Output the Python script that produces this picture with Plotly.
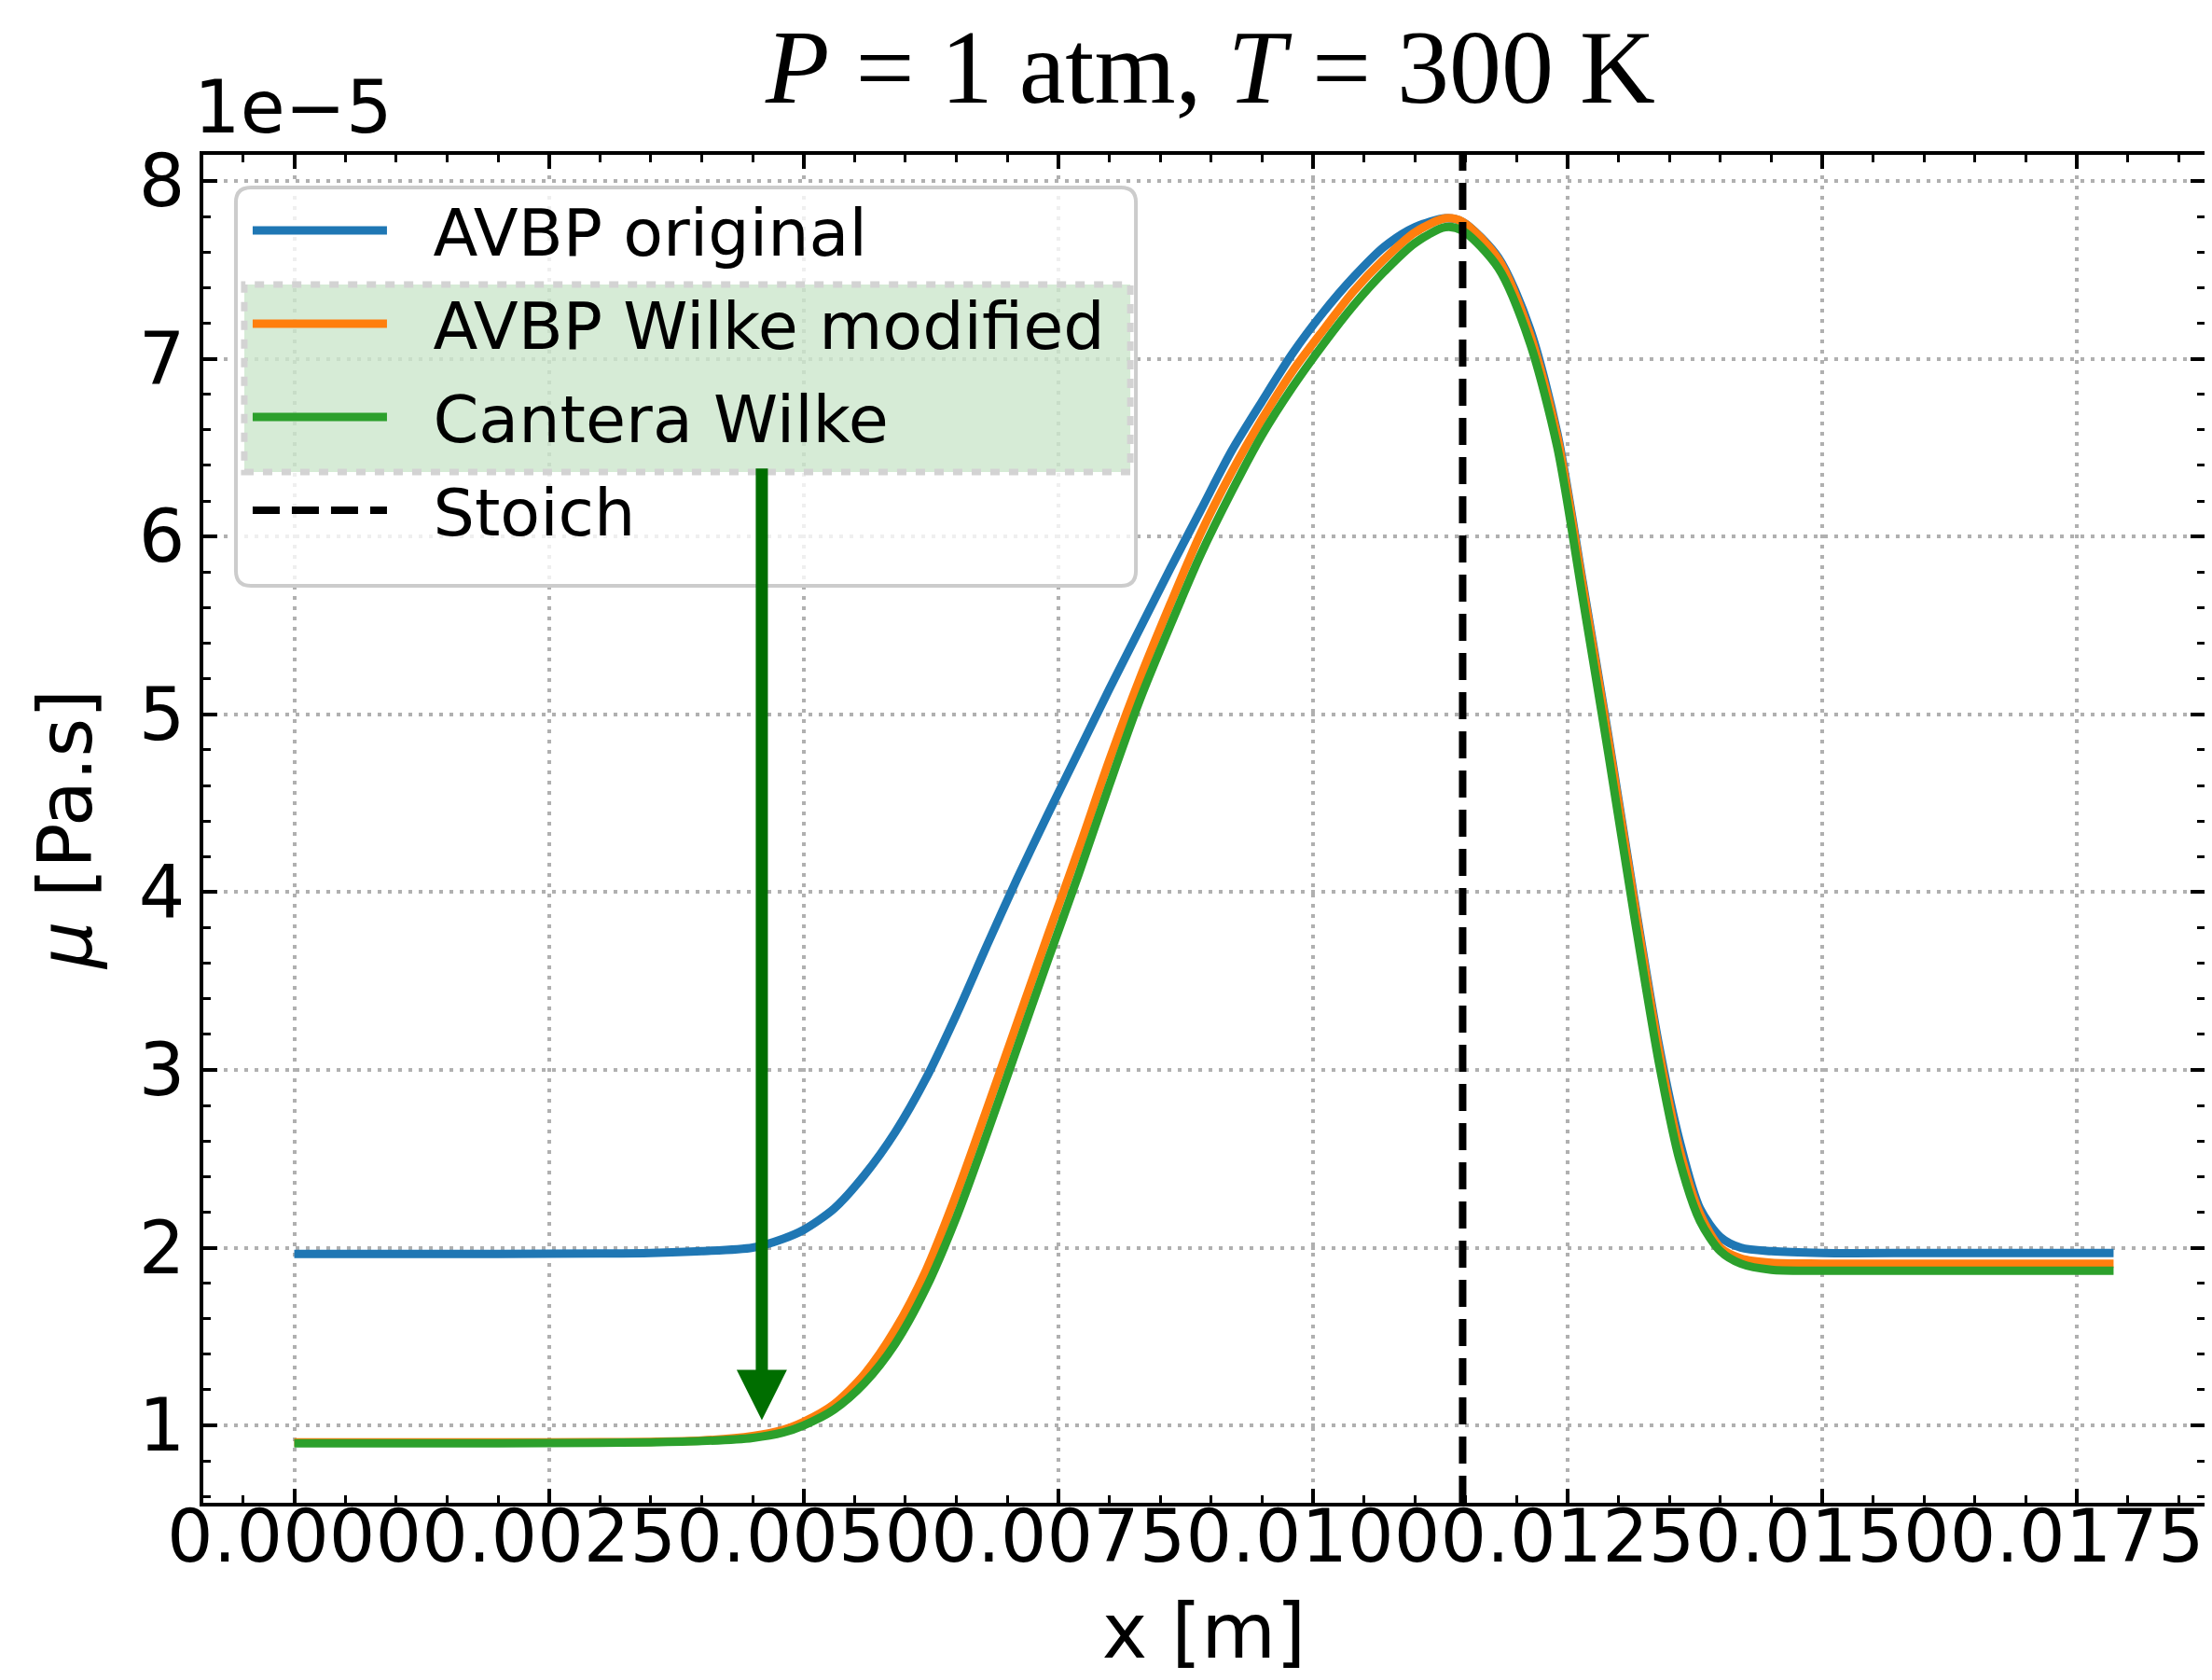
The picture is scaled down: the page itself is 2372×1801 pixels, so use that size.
import plotly.graph_objects as go

# ---------------- data (mu in units of 1e-5 Pa.s) ----------------
x_m = [0.0, 0.001, 0.002, 0.003, 0.0035, 0.004, 0.0045, 0.0048, 0.0050, 0.0053,
       0.0056, 0.0059, 0.0062, 0.0065, 0.0068, 0.0071, 0.0074, 0.0077, 0.0080, 0.0083,
       0.0086, 0.0089, 0.0092, 0.0095, 0.0098, 0.0101, 0.0104, 0.0107, 0.0110, 0.0113,
       0.01147, 0.01182, 0.01213, 0.0124, 0.01265, 0.0129, 0.01315, 0.0134, 0.0136, 0.0138,
       0.0140, 0.0142, 0.0145, 0.0150, 0.0160, 0.0170, 0.01786]

mu_avbp_original = [1.965, 1.965, 1.965, 1.967, 1.97, 1.98, 2.00, 2.05, 2.10, 2.22,
                    2.41, 2.65, 2.95, 3.31, 3.70, 4.08, 4.44, 4.79, 5.14, 5.48,
                    5.82, 6.15, 6.48, 6.76, 7.03, 7.26, 7.46, 7.63, 7.74, 7.79,
                    7.77, 7.57, 7.17, 6.58, 5.74, 4.88, 3.98, 3.13, 2.60, 2.22,
                    2.06, 2.00, 1.98, 1.97, 1.97, 1.97, 1.97]

mu_avbp_wilke = [0.905, 0.905, 0.905, 0.906, 0.908, 0.915, 0.94, 0.975, 1.02, 1.12,
                 1.29, 1.54, 1.87, 2.30, 2.78, 3.27, 3.76, 4.24, 4.74, 5.20,
                 5.62, 6.02, 6.36, 6.66, 6.93, 7.16, 7.38, 7.56, 7.71, 7.79,
                 7.77, 7.56, 7.14, 6.56, 5.72, 4.86, 3.96, 3.10, 2.55, 2.19,
                 2.00, 1.94, 1.915, 1.91, 1.91, 1.91, 1.91]

mu_cantera_wilke = [0.90, 0.90, 0.90, 0.902, 0.905, 0.912, 0.93, 0.96, 1.00, 1.09,
                    1.24, 1.46, 1.77, 2.17, 2.64, 3.13, 3.62, 4.10, 4.60, 5.08,
                    5.50, 5.90, 6.25, 6.57, 6.84, 7.08, 7.30, 7.49, 7.65, 7.74,
                    7.72, 7.51, 7.09, 6.50, 5.65, 4.78, 3.88, 3.03, 2.49, 2.15,
                    1.98, 1.91, 1.875, 1.87, 1.87, 1.87, 1.87]

x_stoich = 0.01147
arrow_x = 0.00459
arrow_tail = 6.39
arrow_tip = 1.03

names = ["AVBP original", "AVBP Wilke modified", "Cantera Wilke", "Stoich"]
colors = ["#1f77b4", "#ff7f0e", "#2ca02c", "black"]

x_range = [-0.000893, 0.018753]
y_range = [0.565, 8.147]
x_ticks = [0.0, 0.0025, 0.005, 0.0075, 0.01, 0.0125, 0.015, 0.0175]
y_ticks = [1, 2, 3, 4, 5, 6, 7, 8]

W, H = 2372, 1801
ML, MR, MT, MB = 210, 14, 158, 198
PW, PH = W - ML - MR, H - MT - MB


def px(X):
    return (X - ML) / PW


def py(Y):
    return (H - MB - Y) / PH


NBSP = "\u00a0"
fig = go.Figure()
for ys, nm, col in [(mu_avbp_original, names[0], colors[0]),
                    (mu_avbp_wilke, names[1], colors[1]),
                    (mu_cantera_wilke, names[2], colors[2])]:
    fig.add_trace(go.Scatter(x=x_m, y=ys, name=NBSP * 2 + nm, mode="lines",
                             line=dict(color=col, width=9, shape="spline", smoothing=0.8),
                             legendgroup=nm))
fig.add_trace(go.Scatter(x=[x_stoich, x_stoich], y=y_range, name=NBSP * 2 + names[3], mode="lines",
                         line=dict(color=colors[3], width=8, dash="29px,13px"),
                         legendgroup=names[3]))

font = "DejaVu Sans"

axis_common = dict(
    showline=True, linecolor="black", linewidth=4, mirror="allticks",
    ticks="inside", ticklen=15, tickwidth=3.5, tickcolor="black",
    showgrid=True, gridcolor="#b0b0b0", gridwidth=3.5, griddash="3.5px,7.5px",
    zeroline=False,
    tickfont=dict(family=font, size=78, color="black"),
)

fig.update_xaxes(range=x_range, tickvals=x_ticks, tickformat=".4f", tickangle=0,
                 ticklabelstandoff=-35,
                 minor=dict(ticks="inside", ticklen=8, tickwidth=3, tickcolor="black",
                            dtick=0.0005, tick0=0, showgrid=False),
                 title=dict(text="x [m]", font=dict(family=font, size=82, color="black"), standoff=30),
                 **axis_common)
fig.update_yaxes(range=y_range, tickvals=y_ticks,
                 minor=dict(ticks="inside", ticklen=8, tickwidth=3, tickcolor="black",
                            dtick=0.2, tick0=0, showgrid=False),
                 title=dict(text="<i>μ</i> [Pa.s]", font=dict(family=font, size=80, color="black"), standoff=25),
                 **axis_common)


def rounded(x0, y0, x1, y1, r):
    rx, ry = r / PW, r / PH
    return (f"M {x0+rx},{y0} L {x1-rx},{y0} Q {x1},{y0} {x1},{y0+ry} "
            f"L {x1},{y1-ry} Q {x1},{y1} {x1-rx},{y1} L {x0+rx},{y1} "
            f"Q {x0},{y1} {x0},{y1-ry} L {x0},{y0+ry} Q {x0},{y0} {x0+rx},{y0} Z")


shapes = [
    dict(type="path", xref="paper", yref="paper", layer="above",
         path=rounded(px(245), py(620), px(1211), py(193), 16),
         fillcolor="rgba(255,255,255,0.8)", line=dict(color="#cccccc", width=4)),
    dict(type="rect", xref="paper", yref="paper", layer="above",
         x0=px(254), x1=px(1205), y0=py(498), y1=py(297),
         fillcolor="rgba(0,128,0,0.16)", line=dict(color="#d3d3d3", width=7, dash="10px,10px")),
]

annotations = [
    dict(x=arrow_x, y=arrow_tip, ax=arrow_x, ay=arrow_tail, xref="x", yref="y",
         axref="x", ayref="y", showarrow=True, arrowhead=2, arrowsize=0.83,
         arrowwidth=13, arrowcolor="#006e00", text=""),
    dict(x=0, y=1, xref="paper", yref="paper", xanchor="left", yanchor="bottom",
         text="1e\u22125", showarrow=False, yshift=4, xshift=-12,
         font=dict(family=font, size=78, color="black")),
]

fig.update_layout(
    width=W, height=H,
    margin=dict(l=ML, r=MR, t=MT, b=MB),
    paper_bgcolor="white", plot_bgcolor="white",
    title=dict(text="<i>P</i> = 1 atm, <i>T</i> = 300 K", x=1290 / W, xanchor="center", xref="container",
               y=1 - 63 / H, yanchor="middle", yref="container",
               font=dict(family="Liberation Serif", size=112, color="black")),
    showlegend=True,
    legend=dict(x=px(258), y=py(187), xanchor="left", yanchor="top",
                bgcolor="rgba(0,0,0,0)", borderwidth=0,
                font=dict(family=font, size=70, color="black"),
                itemwidth=144, tracegroupgap=6, traceorder="grouped"),
    shapes=shapes, annotations=annotations,
)

fig.write_html("out.html")
